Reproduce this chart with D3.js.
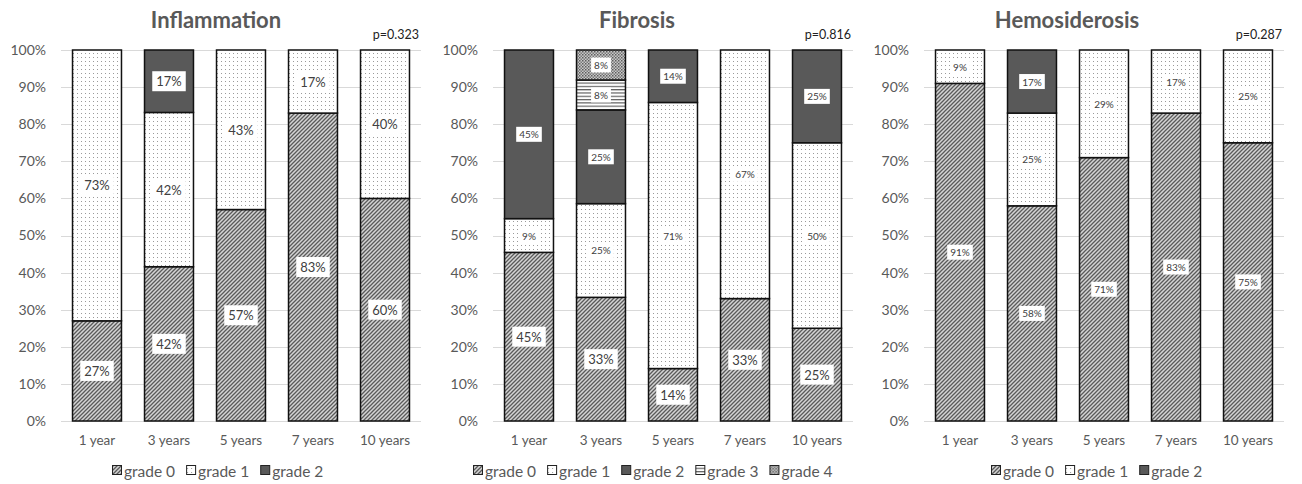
<!DOCTYPE html>
<html>
<head>
<meta charset="utf-8">
<script src="https://cdn.jsdelivr.net/npm/d3@7"></script>
<style>
  html, body { margin: 0; padding: 0; background: #fff; }
  svg text { font-family: Lato, "Open Sans", sans-serif; }
</style>
</head>
<body>
<svg id="chart" width="1302" height="484"></svg>
<script>
// Follow-up time points shared by all three panels
const timepoints = ["1 year", "3 years", "5 years", "7 years", "10 years"];
const yTicks = [0, 0.1, 0.2, 0.3, 0.4, 0.5, 0.6, 0.7, 0.8, 0.9, 1];

// Inflammation grade distribution (%)
const inflammationGrades = ["grade 0", "grade 1", "grade 2"];
const inflammationG0 = [27, 42, 57, 83, 60];
const inflammationG1 = [73, 42, 43, 17, 40];
const inflammationG2 = [0, 17, 0, 0, 0];

// Fibrosis grade distribution (%)
const fibrosisGrades = ["grade 0", "grade 1", "grade 2", "grade 3", "grade 4"];
const fibrosisG0 = [45, 33, 14, 33, 25];
const fibrosisG1 = [9, 25, 71, 67, 50];
const fibrosisG2 = [45, 25, 14, 0, 25];
const fibrosisG3 = [0, 8, 0, 0, 0];
const fibrosisG4 = [0, 8, 0, 0, 0];

// Hemosiderosis grade distribution (%)
const hemosiderosisGrades = ["grade 0", "grade 1", "grade 2"];
const hemosiderosisG0 = [91, 58, 71, 83, 75];
const hemosiderosisG1 = [9, 25, 29, 17, 25];
const hemosiderosisG2 = [0, 17, 0, 0, 0];

const pValues = ["p=0.323", "p=0.816", "p=0.287"];

const panels = [
  { title: "Inflammation", p: pValues[0], grades: inflammationGrades,
    series: [inflammationG0, inflammationG1, inflammationG2],
    left: 61, right: 421, titleX: 216, legendCx: 218, labelSize: () => 13 },
  { title: "Fibrosis", p: pValues[1], grades: fibrosisGrades,
    series: [fibrosisG0, fibrosisG1, fibrosisG2, fibrosisG3, fibrosisG4],
    left: 493, right: 853, titleX: 637, legendCx: 653, labelSize: g => g === "grade 0" ? 13 : 10 },
  { title: "Hemosiderosis", p: pValues[2], grades: hemosiderosisGrades,
    series: [hemosiderosisG0, hemosiderosisG1, hemosiderosisG2],
    left: 924, right: 1284, titleX: 1067, legendCx: 1097, labelSize: () => 10 }
];

const svg = d3.select("#chart");
const defs = svg.append("defs");

// Fill patterns for each grade
function diagPattern(id) {
  const p = defs.append("pattern").attr("id", id).attr("patternUnits", "userSpaceOnUse")
    .attr("width", 4).attr("height", 4);
  p.append("rect").attr("width", 4).attr("height", 4).attr("fill", "#d4d4d4");
  p.append("path").attr("d", "M-1,1 L1,-1 M0,4 L4,0 M3,5 L5,3")
    .attr("stroke", "#5a5a5a").attr("stroke-width", 1.3);
}
function sparseDotPattern(id) {
  const p = defs.append("pattern").attr("id", id).attr("patternUnits", "userSpaceOnUse")
    .attr("width", 4).attr("height", 4);
  p.append("rect").attr("width", 4).attr("height", 4).attr("fill", "#fff");
  p.append("rect").attr("x", 1).attr("y", 1).attr("width", 1).attr("height", 1).attr("fill", "#9a9a9a");
}
function hLinePattern(id) {
  const p = defs.append("pattern").attr("id", id).attr("patternUnits", "userSpaceOnUse")
    .attr("width", 4).attr("height", 3.3);
  p.append("rect").attr("width", 4).attr("height", 3.3).attr("fill", "#fff");
  p.append("rect").attr("y", 0).attr("width", 4).attr("height", 1.2).attr("fill", "#606060");
}
function denseDotPattern(id) {
  const p = defs.append("pattern").attr("id", id).attr("patternUnits", "userSpaceOnUse")
    .attr("width", 3).attr("height", 3);
  p.append("rect").attr("width", 3).attr("height", 3).attr("fill", "#c8c8c8");
  p.append("rect").attr("x", 0).attr("y", 0).attr("width", 1.5).attr("height", 1.5).attr("fill", "#5e5e5e");
  p.append("rect").attr("x", 1.5).attr("y", 1.5).attr("width", 1.5).attr("height", 1.5).attr("fill", "#7a7a7a");
}
diagPattern("pat-g0");
sparseDotPattern("pat-g1");
hLinePattern("pat-g3");
denseDotPattern("pat-g4");

const gradeFill = {
  "grade 0": "url(#pat-g0)",
  "grade 1": "url(#pat-g1)",
  "grade 2": "#595959",
  "grade 3": "url(#pat-g3)",
  "grade 4": "url(#pat-g4)"
};

const yTop = 50, yBottom = 421;
const y = d3.scaleLinear().domain([0, 1]).range([yBottom, yTop]);
const axisColor = "#595959";

panels.forEach(panel => {
  const g = svg.append("g");
  const x = d3.scaleBand().domain(timepoints).range([panel.left, panel.right])
    .paddingInner(0.32).paddingOuter(0.16);

  // Rows for the stack layout
  const rows = timepoints.map((t, i) => {
    const r = { time: t };
    panel.grades.forEach((gr, k) => { r[gr] = panel.series[k][i]; });
    return r;
  });
  const stacked = d3.stack().keys(panel.grades).offset(d3.stackOffsetExpand)(rows);

  // Horizontal gridlines
  g.append("g").selectAll("line").data(yTicks).join("line")
    .attr("x1", panel.left).attr("x2", panel.right)
    .attr("y1", d => Math.round(y(d)) + 0.5).attr("y2", d => Math.round(y(d)) + 0.5)
    .attr("stroke", "#d9d9d9").attr("stroke-width", 1);

  // Y axis labels
  const yAxis = d3.axisLeft(y).tickValues(yTicks).tickFormat(d3.format(".0%")).tickSize(0).tickPadding(0);
  const ya = g.append("g").attr("transform", `translate(${panel.left - 15},0)`).call(yAxis);
  ya.select(".domain").remove();
  ya.selectAll("text").attr("font-size", 14).attr("fill", axisColor)
    .attr("font-family", "Lato, 'Open Sans', sans-serif");

  // X axis labels
  const xAxis = d3.axisBottom(x).tickSize(0).tickPadding(0);
  const xa = g.append("g").attr("transform", `translate(0,${yBottom + 14})`).call(xAxis);
  xa.select(".domain").remove();
  xa.selectAll("text").attr("font-size", 13.5).attr("fill", axisColor)
    .attr("font-family", "Lato, 'Open Sans', sans-serif");

  // Stacked segments
  stacked.forEach(layer => {
    g.append("g").selectAll("rect").data(layer.filter(d => d.data[layer.key] > 0)).join("rect")
      .attr("x", d => x(d.data.time))
      .attr("width", x.bandwidth())
      .attr("y", d => y(d[1]))
      .attr("height", d => y(d[0]) - y(d[1]))
      .attr("fill", gradeFill[layer.key])
      .attr("stroke", "#111").attr("stroke-width", 1.5);
  });

  // Value labels on white boxes
  stacked.forEach(layer => {
    const fs = panel.labelSize(layer.key);
    layer.filter(d => d.data[layer.key] > 0).forEach(d => {
      const cx = x(d.data.time) + x.bandwidth() / 2;
      const cy = (y(d[0]) + y(d[1])) / 2;
      const lg = g.append("g");
      const t = lg.append("text").attr("x", cx).attr("y", cy)
        .attr("text-anchor", "middle").attr("dominant-baseline", "central")
        .attr("font-size", fs).attr("fill", "#404040")
        .text(d.data[layer.key] + "%");
      const w = t.node().getComputedTextLength();
      const padX = fs > 11 ? 4 : 3, h = fs > 11 ? 20 : 15;
      lg.insert("rect", "text").attr("x", cx - w / 2 - padX).attr("y", cy - h / 2)
        .attr("width", w + 2 * padX).attr("height", h).attr("fill", "#fff");
    });
  });

  // Title and p-value
  g.append("text").attr("x", panel.titleX).attr("y", 28)
    .attr("text-anchor", "middle").attr("font-size", 22).attr("font-weight", "bold")
    .attr("fill", axisColor).text(panel.title);
  g.append("text").attr("x", panel.right - 2).attr("y", 39)
    .attr("text-anchor", "end").attr("font-size", 12.5).attr("fill", "#222")
    .text(panel.p);

  // Legend
  const lg = g.append("g");
  let cursor = 0;
  const gap = 11;
  panel.grades.forEach(gr => {
    const it = lg.append("g");
    it.append("rect").attr("x", 0.5).attr("y", -5.5).attr("width", 9).attr("height", 9)
      .attr("fill", gradeFill[gr]).attr("stroke", "#222").attr("stroke-width", 1);
    const tx = it.append("text").attr("x", 12).attr("y", 0).attr("dominant-baseline", "central")
      .attr("font-size", 15.5).attr("fill", axisColor).text(gr);
    const w = 12 + tx.node().getComputedTextLength();
    it.attr("transform", `translate(${cursor},0)`);
    cursor += w + gap;
  });
  const total = cursor - gap;
  lg.attr("transform", `translate(${Math.round(panel.legendCx - total / 2)},${471})`);
});
</script>
</body>
</html>
